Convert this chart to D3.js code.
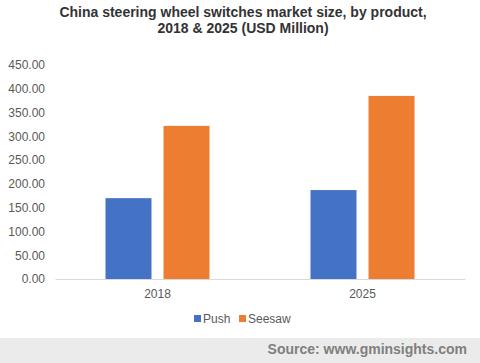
<!DOCTYPE html>
<html>
<head>
<meta charset="utf-8">
<script src="https://cdn.jsdelivr.net/npm/d3@7"></script>
<style>
  body { margin: 0; background: #fff; }
  text { font-family: "Liberation Sans", Arial, sans-serif; }
</style>
</head>
<body>
<div class="chart"></div>
<script>
let years = ["2018", "2025"]
let series = ["Push", "Seesaw"]
let push = [170, 187]
let seesaw = [322, 385]
let colors = ["#4472c4", "#ed7d31"]
let yTicks = [0, 50, 100, 150, 200, 250, 300, 350, 400, 450]

let width = 480, height = 363
let svg = d3.select(".chart")
  .append("svg")
  .attr("width", width)
  .attr("height", height)

// title
let title = svg.append("text")
  .attr("x", 243)
  .attr("text-anchor", "middle")
  .attr("font-weight", "bold")
  .attr("font-size", 14)
  .attr("fill", "#333")
title.append("tspan").attr("x", 243).attr("y", 17)
  .text("China steering wheel switches market size, by product,")
title.append("tspan").attr("x", 243).attr("y", 33)
  .text("2018 & 2025 (USD Million)")

let x0 = d3.scaleBand().domain(years).range([55, 465])
let x1 = d3.scaleBand().domain(series)
  .range([x0.bandwidth() / 2 - 52, x0.bandwidth() / 2 + 52])
  .paddingInner(0.207)
let y = d3.scaleLinear().domain([0, 450]).range([279, 65])

let yAxis = svg.append("g")
  .attr("transform", "translate(49,0)")
  .call(d3.axisLeft(y).tickValues(yTicks).tickFormat(d3.format(".2f")).tickSize(0).tickPadding(4))
yAxis.select(".domain").remove()
yAxis.selectAll("text")
  .attr("font-family", "'Liberation Sans', Arial, sans-serif")
  .attr("font-size", 12)
  .attr("fill", "#595959")

let rows = years.map((yr, i) => ({ year: yr, values: [push[i], seesaw[i]] }))

let groups = svg.selectAll(".grp")
  .data(rows)
  .enter()
  .append("g")
  .attr("transform", d => `translate(${x0(d.year)},0)`)

groups.selectAll("rect")
  .data(d => d.values.map((v, j) => ({ key: series[j], value: v, c: colors[j] })))
  .enter()
  .append("rect")
  .attr("x", d => x1(d.key))
  .attr("width", x1.bandwidth())
  .attr("y", d => y(d.value))
  .attr("height", d => y(0) - y(d.value))
  .attr("fill", d => d.c)

let xAxis = svg.append("g")
  .attr("transform", "translate(0,279)")
  .call(d3.axisBottom(x0).tickSize(0).tickPadding(10))
xAxis.select(".domain").attr("stroke", "#d9d9d9")
xAxis.selectAll("text")
  .attr("font-family", "'Liberation Sans', Arial, sans-serif")
  .attr("font-size", 12)
  .attr("fill", "#595959")

// legend
let legendX = [194, 239]
let legend = svg.selectAll(".leg")
  .data(series)
  .enter()
  .append("g")
  .attr("transform", (d, i) => `translate(${legendX[i]},315)`)
legend.append("rect")
  .attr("width", 7).attr("height", 7)
  .attr("fill", (d, i) => colors[i])
legend.append("text")
  .attr("x", 9).attr("y", 8)
  .attr("font-size", 12)
  .attr("fill", "#595959")
  .text(d => d)

// footer
svg.append("rect")
  .attr("x", 0).attr("y", 338)
  .attr("width", width).attr("height", 25)
  .attr("fill", "#ebebeb")
svg.append("text")
  .attr("x", 467).attr("y", 354)
  .attr("text-anchor", "end")
  .attr("font-weight", "bold")
  .attr("font-size", 14)
  .attr("fill", "#7f7f7f")
  .text("Source: www.gminsights.com")
</script>
</body>
</html>
